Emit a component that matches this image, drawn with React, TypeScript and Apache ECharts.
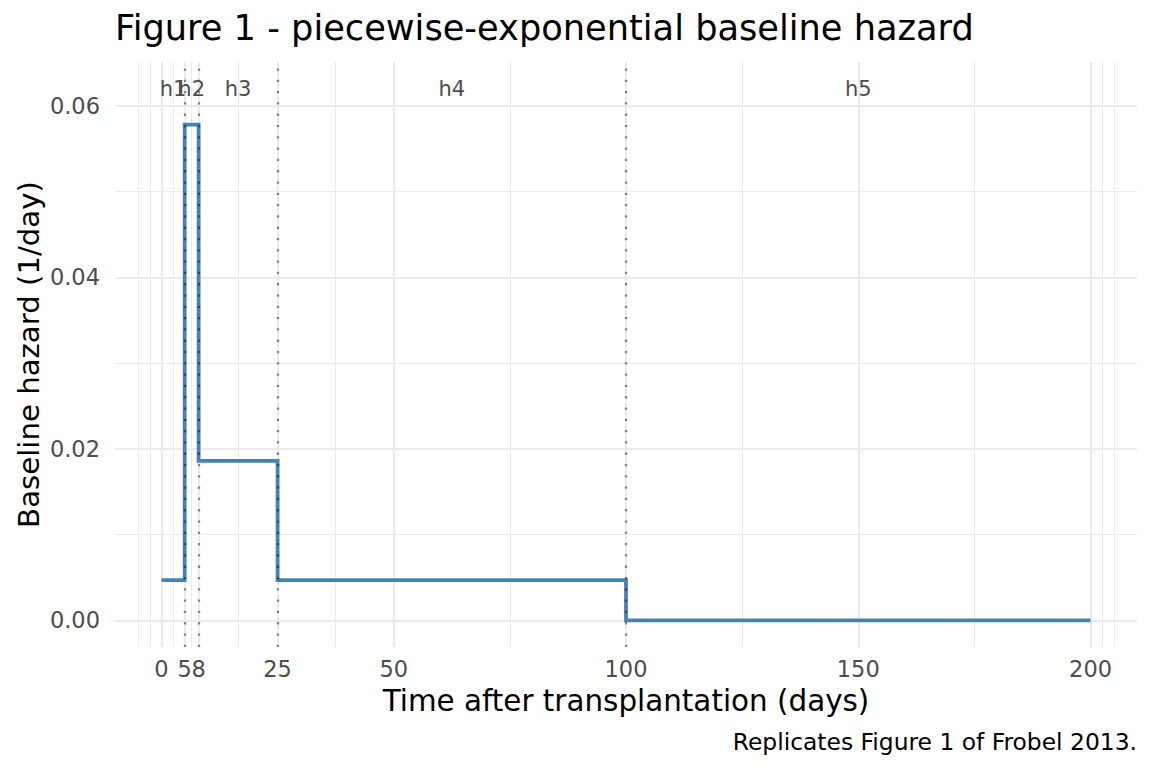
import React, { useEffect, useRef } from "react";
import * as echarts from "echarts";

const stepBreaks = [0, 5, 8, 25, 100, 200];
const hazards = [0.0047, 0.0578, 0.0186, 0.0047, 0.0];
const cutPoints = [5, 8, 25, 100];
const xTickValues = [0, 5, 8, 25, 50, 100, 150, 200];
const xMinorGrid = [-5, -2.5, 2.5, 6.5, 16.5, 37.5, 75, 125, 175, 202.5, 205];
const yTickValues = [0, 0.02, 0.04, 0.06];
const yMinorGrid = [0.01, 0.03, 0.05];
const intervalLabels = ["h1", "h2", "h3", "h4", "h5"];
const labelX = [2.5, 6.5, 16.5, 62.5, 150];
const labelY = 0.062;

const FONT = "DejaVu Sans";

export default function App() {
  const ref = useRef<HTMLDivElement>(null);

  useEffect(() => {
    if (!ref.current) return;
    const chart = echarts.init(ref.current, null, { renderer: "svg" });

    const stepData: number[][] = [];
    for (let i = 0; i < hazards.length; i++) {
      stepData.push([stepBreaks[i], hazards[i]]);
      stepData.push([stepBreaks[i + 1], hazards[i]]);
    }

    const gridTop = 62;
    const gridBottomPx = 647;
    const gridLeft = 115;
    const gridRightPx = 1137;

    const option: any = {
      animation: false,
      backgroundColor: "#ffffff",
      textStyle: { fontFamily: FONT },
      grid: {
        left: gridLeft,
        right: 1152 - gridRightPx,
        top: gridTop,
        bottom: 768 - gridBottomPx,
        containLabel: false,
      },
      xAxis: {
        type: "value",
        min: -10,
        max: 210,
        axisLine: { show: false },
        axisTick: { show: false },
        splitLine: { show: false },
        axisLabel: {
          customValues: xTickValues,
          fontSize: 22.5,
          lineHeight: 22,
          color: "#4d4d4d",
          margin: 11,
          fontFamily: FONT,
          hideOverlap: false,
        },
      },
      yAxis: {
        type: "value",
        min: -0.0031,
        max: 0.0651,
        axisLine: { show: false },
        axisTick: { show: false },
        splitLine: { show: false },
        axisLabel: {
          customValues: yTickValues,
          formatter: (v: number) => v.toFixed(2),
          fontSize: 22.5,
          color: "#4d4d4d",
          margin: 15,
          fontFamily: FONT,
        },
      },
      series: [
        {
          name: "minorGrid",
          type: "line",
          data: [],
          z: 1,
          silent: true,
          markLine: {
            z: 1,
            silent: true,
            symbol: ["none", "none"],
            label: { show: false },
            lineStyle: { color: "#ebebeb", width: 1, type: "solid" },
            emphasis: { disabled: true },
            data: [
              ...xMinorGrid.map((v) => ({ xAxis: v })),
              ...yMinorGrid.map((v) => ({ yAxis: v })),
            ],
          },
        },
        {
          name: "majorGrid",
          type: "line",
          data: [],
          z: 2,
          silent: true,
          markLine: {
            z: 2,
            silent: true,
            symbol: ["none", "none"],
            label: { show: false },
            lineStyle: { color: "#ebebeb", width: 2, type: "solid" },
            emphasis: { disabled: true },
            data: [
              ...xTickValues.map((v) => ({ xAxis: v })),
              ...yTickValues.map((v) => ({ yAxis: v })),
            ],
          },
        },
        {
          name: "hazard",
          type: "line",
          data: stepData,
          z: 5,
          showSymbol: false,
          symbol: "none",
          lineStyle: { color: "#4682b4", width: 3.8, join: "miter", cap: "butt" },
          silent: true,
        },
        {
          name: "cuts",
          type: "line",
          data: [],
          z: 10,
          silent: true,
          markLine: {
            z: 10,
            silent: true,
            symbol: ["none", "none"],
            label: { show: false },
            lineStyle: {
              color: "rgba(0,0,0,0.45)",
              width: 2.3,
              type: [2.3, 9],
              cap: "butt",
            },
            emphasis: { disabled: true },
            data: cutPoints.map((v) => ({ xAxis: v })),
          },
        },
        {
          name: "labels",
          type: "scatter",
          z: 11,
          symbolSize: 1,
          itemStyle: { color: "rgba(0,0,0,0)" },
          silent: true,
          data: intervalLabels.map((t, i) => [labelX[i], labelY, t]),
          label: {
            show: true,
            position: "inside",
            formatter: (p: any) => p.data[2],
            fontSize: 21,
            color: "#4d4d4d",
            opacity: 1,
            fontFamily: FONT,
          },
        },
      ],
      graphic: [
        {
          type: "text",
          left: 115,
          top: 10,
          style: {
            text: "Figure 1 - piecewise-exponential baseline hazard",
            fontSize: 35.2,
            fontFamily: FONT,
            fill: "#000000",
          },
        },
        {
          type: "text",
          x: (gridLeft + gridRightPx) / 2,
          y: 701,
          style: {
            text: "Time after transplantation (days)",
            fontSize: 29.4,
            fontFamily: FONT,
            fill: "#000000",
            align: "center",
            verticalAlign: "middle",
          },
        },
        {
          type: "text",
          x: 29,
          y: (gridTop + gridBottomPx) / 2,
          rotation: Math.PI / 2,
          style: {
            text: "Baseline hazard (1/day)",
            fontSize: 29.2,
            fontFamily: FONT,
            fill: "#000000",
            align: "center",
            verticalAlign: "middle",
          },
        },
        {
          type: "text",
          x: 1137,
          y: 742,
          style: {
            text: "Replicates Figure 1 of Frobel 2013.",
            fontSize: 23.4,
            fontFamily: FONT,
            fill: "#000000",
            align: "right",
            verticalAlign: "middle",
          },
        },
      ],
    };

    chart.setOption(option);
    return () => chart.dispose();
  }, []);

  return (
    <div
      ref={ref}
      style={{ position: "fixed", left: 0, top: 0, width: 1152, height: 768 }}
    />
  );
}
